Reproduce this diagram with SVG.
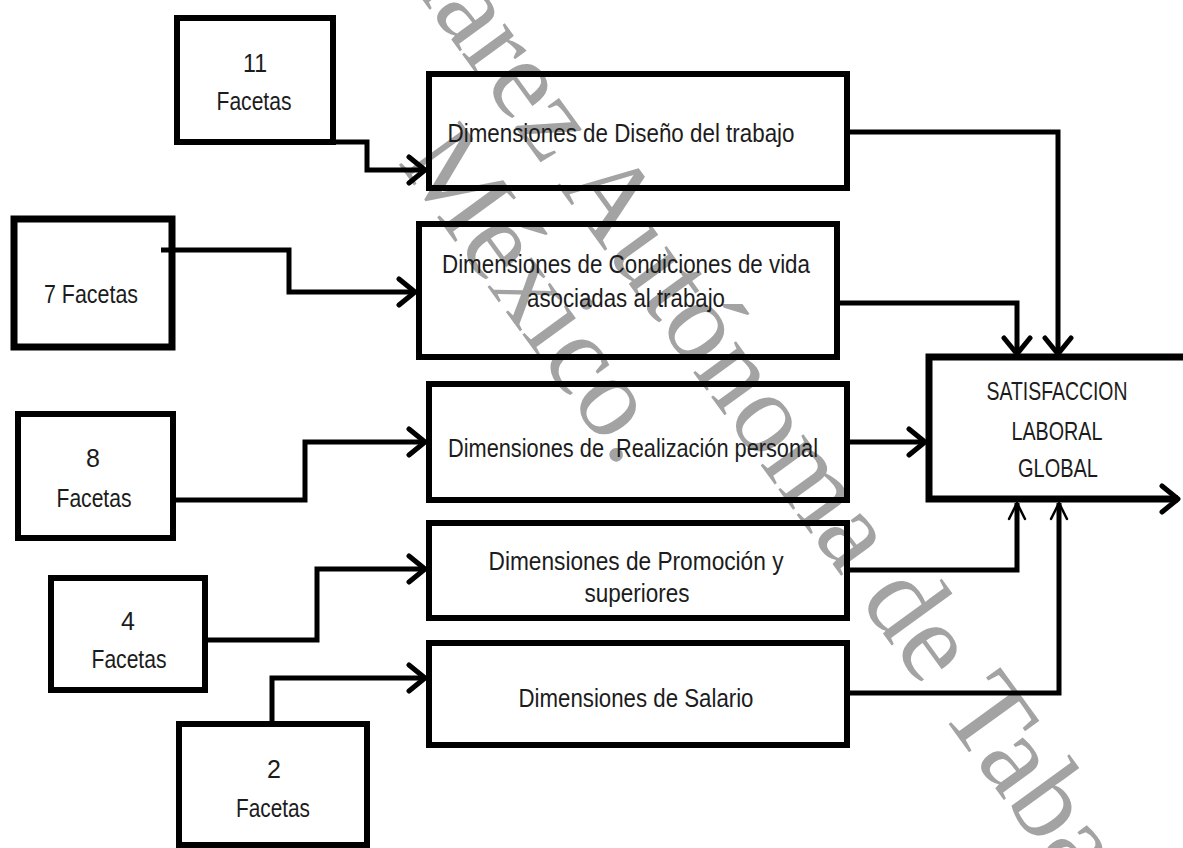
<svg xmlns="http://www.w3.org/2000/svg" width="1183" height="848" viewBox="0 0 1183 848">
<defs>
<style>
.box{fill:none;stroke:#000;stroke-width:6;stroke-linejoin:miter}
.lbl{font-family:"Liberation Sans",Arial,sans-serif;font-size:25px;fill:#1c1c1c;text-anchor:middle}
.con{fill:none;stroke:#000;stroke-width:5;stroke-linejoin:miter}
.wm{font-family:"Liberation Serif","Times New Roman",serif;font-size:115px;fill:#a3a3a3;stroke:#fff;stroke-width:2;paint-order:stroke}
</style>
<marker id="ah" viewBox="0 0 22 32" refX="19" refY="16" markerWidth="22" markerHeight="32" markerUnits="userSpaceOnUse" orient="auto">
<path d="M3,3 L19,16 L3,29" fill="none" stroke="#000" stroke-width="5" stroke-linecap="round" stroke-linejoin="round"/>
</marker>
<marker id="ahs" viewBox="0 0 20 20" refX="18" refY="10" markerWidth="20" markerHeight="20" markerUnits="userSpaceOnUse" orient="auto">
<path d="M2,2 L18,10 L2,18" fill="none" stroke="#000" stroke-width="2.5" stroke-linecap="round"/>
</marker>
</defs>
<rect width="1183" height="848" fill="#fff"/>
<g id="watermark">
<text class="wm" transform="translate(560,189) rotate(54)" x="-322" y="0">Juárez Autónoma de Tabasco</text>
<text class="wm" transform="translate(397,162) rotate(54)" x="0" y="0">México.</text>
</g>
<g id="n11">
<rect class="box" x="177" y="18" width="156" height="124"/>
<text class="lbl" x="255" y="72" textLength="24" lengthAdjust="spacingAndGlyphs">11</text>
<text class="lbl" x="254" y="110" textLength="75" lengthAdjust="spacingAndGlyphs">Facetas</text>
</g>
<g id="n7">
<rect x="14" y="219" width="158" height="128" fill="none" stroke="#000" stroke-width="7"/>
<text class="lbl" x="91" y="303" textLength="94" lengthAdjust="spacingAndGlyphs">7 Facetas</text>
</g>
<g id="n8">
<rect class="box" x="18" y="414" width="155" height="124"/>
<text class="lbl" x="93" y="467">8</text>
<text class="lbl" x="94" y="507" textLength="75" lengthAdjust="spacingAndGlyphs">Facetas</text>
</g>
<g id="n4">
<rect class="box" x="51" y="578" width="154" height="112"/>
<text class="lbl" x="128" y="630">4</text>
<text class="lbl" x="129" y="668" textLength="75" lengthAdjust="spacingAndGlyphs">Facetas</text>
</g>
<g id="n2">
<rect class="box" x="179" y="724" width="188" height="121"/>
<text class="lbl" x="274" y="778">2</text>
<text class="lbl" x="273" y="817" textLength="74" lengthAdjust="spacingAndGlyphs">Facetas</text>
</g>
<g id="dA">
<rect class="box" x="429" y="74" width="418" height="114"/>
<text class="lbl" x="621" y="142" textLength="347" lengthAdjust="spacingAndGlyphs">Dimensiones de Diseño del trabajo</text>
</g>
<g id="dB">
<rect class="box" x="419" y="224" width="418" height="133"/>
<text class="lbl" x="626" y="273" textLength="368" lengthAdjust="spacingAndGlyphs">Dimensiones de Condiciones de vida</text>
<text class="lbl" x="626" y="307" textLength="198" lengthAdjust="spacingAndGlyphs">asociadas al trabajo</text>
</g>
<g id="dC">
<rect class="box" x="429" y="384" width="418" height="116"/>
<text class="lbl" x="633" y="457" textLength="370" lengthAdjust="spacingAndGlyphs" xml:space="preserve">Dimensiones de  Realización personal</text>
</g>
<g id="dD">
<rect class="box" x="429" y="523" width="418" height="95"/>
<text class="lbl" x="636" y="570" textLength="295" lengthAdjust="spacingAndGlyphs">Dimensiones de Promoción y</text>
<text class="lbl" x="637" y="602" textLength="105" lengthAdjust="spacingAndGlyphs">superiores</text>
</g>
<g id="dE">
<rect class="box" x="429" y="643" width="418" height="102"/>
<text class="lbl" x="636" y="707" textLength="235" lengthAdjust="spacingAndGlyphs">Dimensiones de Salario</text>
</g>
<g id="sat">
<path d="M1190,357 H929 V499 H1178" fill="none" stroke="#000" stroke-width="7" marker-end="url(#ah)"/>
<text class="lbl" x="1057" y="400" textLength="141" lengthAdjust="spacingAndGlyphs">SATISFACCION</text>
<text class="lbl" x="1057" y="440" textLength="91" lengthAdjust="spacingAndGlyphs">LABORAL</text>
<text class="lbl" x="1058" y="477" textLength="80" lengthAdjust="spacingAndGlyphs">GLOBAL</text>
</g>
<g id="connectors">
<path class="con" d="M333,142 H367 V170 H425" marker-end="url(#ah)"/>
<path class="con" d="M161,250 H289 V292 H415" marker-end="url(#ah)"/>
<path class="con" d="M175,500 H305 V442 H425" marker-end="url(#ah)"/>
<path class="con" d="M207,640 H317 V569 H425" marker-end="url(#ah)"/>
<path class="con" d="M272,722 V678 H425" marker-end="url(#ah)"/>
<path class="con" d="M849,132 H1058 V354" marker-end="url(#ah)"/>
<path class="con" d="M839,303 H1017 V354" marker-end="url(#ah)"/>
<path class="con" d="M849,442 H925" marker-end="url(#ah)"/>
<path class="con" d="M849,570 H1017 V503" marker-end="url(#ahs)"/>
<path class="con" d="M849,693 H1059 V503" marker-end="url(#ahs)"/>
</g>
</svg>
